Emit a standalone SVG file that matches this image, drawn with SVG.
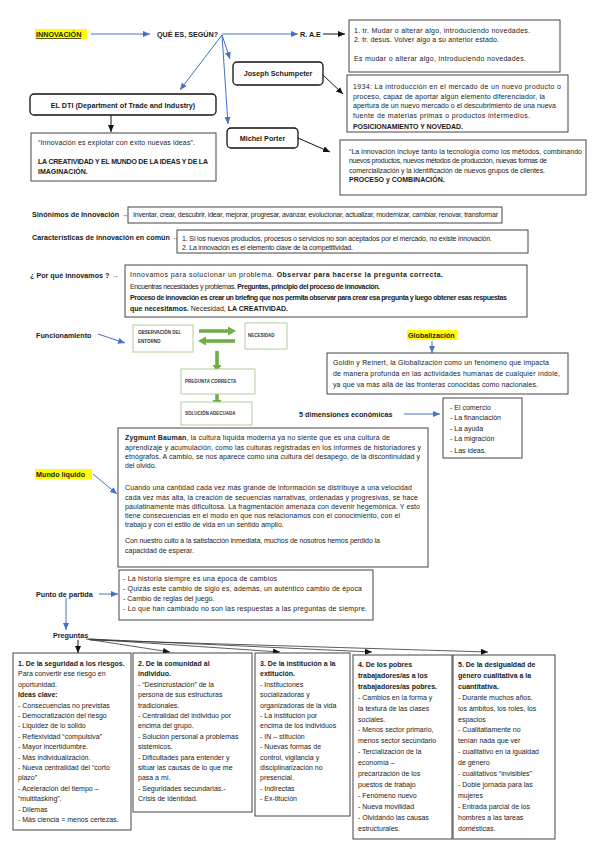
<svg xmlns="http://www.w3.org/2000/svg" width="599" height="848" viewBox="0 0 599 848">
<style>
text{font-family:"Liberation Sans",Arial,sans-serif;fill:#1a1a1a}
.t{font-size:7px}
.b{font-weight:bold}
.h{font-size:7.2px;font-weight:bold}
.g{font-size:4.5px;font-weight:bold;fill:#333}
.box{fill:#fff;stroke:#444;stroke-width:1}
.rbox{fill:#fff;stroke:#111;stroke-width:1.3}
.gbox{fill:#fff;stroke:#a9c98e;stroke-width:0.9}
.blue{stroke:#4472c4;stroke-width:1;fill:none}
.blk{stroke:#111;stroke-width:1;fill:none}
.fan{stroke:#333;stroke-width:0.8;fill:none}
.hl{fill:#ffff00}
.ga{fill:#70ad47}
</style>
<defs>
<marker id="ab" markerUnits="userSpaceOnUse" markerWidth="7" markerHeight="6" refX="7" refY="3" orient="auto"><path d="M0,0 L7,3 L0,6 z" fill="#4472c4"/></marker>
<marker id="ak" markerUnits="userSpaceOnUse" markerWidth="7" markerHeight="6" refX="7" refY="3" orient="auto"><path d="M0,0 L7,3 L0,6 z" fill="#111"/></marker>
</defs>

<g id="connectors">
<line class="blue" x1="91" y1="34" x2="150" y2="34" marker-end="url(#ab)"/>
<line class="blue" x1="222" y1="34" x2="298" y2="34" marker-end="url(#ab)"/>
<line class="blk" x1="323" y1="34" x2="345" y2="34" marker-end="url(#ak)"/>
<line class="blue" x1="222" y1="35" x2="180" y2="90" marker-end="url(#ab)"/>
<line class="blue" x1="222" y1="35" x2="230" y2="59" marker-end="url(#ab)"/>
<line class="blue" x1="222" y1="35" x2="228" y2="124" marker-end="url(#ab)"/>
<line class="blk" x1="323" y1="75" x2="343" y2="94" marker-end="url(#ak)"/>
<line class="blk" x1="111" y1="115" x2="111" y2="132" marker-end="url(#ak)"/>
<line class="blk" x1="298" y1="138" x2="330" y2="152" marker-end="url(#ak)"/>
<line class="blue" x1="98" y1="334" x2="125" y2="343" marker-end="url(#ab)"/>
<polygon class="ga" points="199,329.2 228,329.2 228,326.5 236,331 228,335.5 228,332.8 199,332.8"/>
<polygon class="ga" points="235,339.2 206,339.2 206,336.5 198,341 206,345.5 206,342.8 235,342.8"/>
<polygon class="ga" points="215.2,351 218.8,351 218.8,365 221.5,365 217,372 212.5,365 215.2,365"/>
<polygon class="ga" points="215.2,394 218.8,394 218.8,400 221.5,400 217,407 212.5,400 215.2,400"/>
<line class="blue" x1="432" y1="341" x2="432" y2="353" marker-end="url(#ab)"/>
<line class="blue" x1="404" y1="414" x2="440" y2="414" marker-end="url(#ab)"/>
<line class="blue" x1="93" y1="474" x2="117" y2="494" marker-end="url(#ab)"/>
<line class="blue" x1="99" y1="594" x2="118" y2="594" marker-end="url(#ab)"/>
<line class="blue" x1="66" y1="598" x2="66" y2="630" marker-end="url(#ab)"/>
<line class="blk" x1="78" y1="640" x2="78" y2="653" marker-end="url(#ak)"/>
<line class="fan" x1="86" y1="639" x2="170" y2="652" marker-end="url(#ak)"/>
<line class="fan" x1="88" y1="639" x2="280" y2="652" marker-end="url(#ak)"/>
<line class="fan" x1="90" y1="639" x2="372" y2="652" marker-end="url(#ak)"/>
<line class="fan" x1="90" y1="640" x2="488" y2="652" marker-end="url(#ak)"/>
</g>

<g id="innovacion">
<rect class="hl" x="35" y="29" width="52" height="10"/>
<text class="h" x="36" y="37" text-decoration="underline">INNOVACIÓN</text>
</g>
<g id="que-es"><text class="h" x="157" y="37">QUÉ ES, SEGÚN?</text></g>
<g id="rae"><text class="h" x="300" y="37">R. A.E</text></g>

<g id="rae-def">
<rect class="box" x="349" y="20" width="211" height="52"/>
<text class="t" x="354" y="32.5" font-size="7.4" textLength="176">1. tr. Mudar o alterar algo, introduciendo novedades.</text>
<text class="t" x="354" y="41.5" font-size="7.4" textLength="145">2. tr. desus. Volver algo a su anterior estado.</text>
<text class="t" x="354" y="60.5" font-size="7.4" textLength="172">Es mudar o alterar algo, introduciendo novedades.</text>
</g>

<g id="schumpeter">
<rect class="rbox" x="233" y="62" width="90" height="23" rx="4"/>
<text class="h" x="278" y="76" text-anchor="middle" font-size="7">Joseph Schumpeter</text>
</g>
<g id="schumpeter-def">
<rect class="box" x="347" y="75" width="221" height="57"/>
<text class="t" x="353" y="89" font-size="7.1" textLength="208">1934: La introducción en el mercado de un nuevo producto o</text>
<text class="t" x="353" y="99" font-size="7.1" textLength="192">proceso, capaz de aportar algún elemento diferenciador, la</text>
<text class="t" x="353" y="108" font-size="7.1" textLength="203">apertura de un nuevo mercado o el descubrimiento de una nueva</text>
<text class="t" x="353" y="117.5" font-size="7.1" textLength="177">fuente de materias primas o productos intermedios.</text>
<text class="t b" x="353" y="129" font-size="6.8" textLength="110">POSICIONAMIENTO Y NOVEDAD.</text>
</g>

<g id="dti">
<rect class="rbox" x="30" y="94" width="186" height="21" rx="4"/>
<text class="h" x="123" y="107.5" text-anchor="middle" font-size="7">EL DTI (Department of Trade and Industry)</text>
</g>
<g id="dti-def">
<rect class="box" x="31" y="133" width="185" height="48"/>
<text class="t" x="38" y="145" font-size="6.8" textLength="157">“Innovación es explotar con éxito nuevas ideas”.</text>
<text class="t b" x="38" y="164" font-size="6.2" textLength="170">LA CREATIVIDAD Y EL MUNDO DE LA IDEAS Y DE LA</text>
<text class="t b" x="38" y="173.5" font-size="6.2">IMAGINACIÓN.</text>
</g>

<g id="porter">
<rect class="rbox" x="227" y="128" width="71" height="20" rx="4"/>
<text class="h" x="262.5" y="141" text-anchor="middle" font-size="7">Michel Porter</text>
</g>
<g id="porter-def">
<rect class="box" x="340" y="140" width="246" height="55"/>
<text class="t" x="349" y="154" font-size="6.5" textLength="233">“La innovación incluye tanto la tecnología como los métodos, combinando</text>
<text class="t" x="349" y="163" font-size="6.5" textLength="198">nuevos productos, nuevos métodos de producción, nuevas formas de</text>
<text class="t" x="349" y="172.5" font-size="6.5" textLength="196">comercialización y la identificación de nuevos grupos de clientes.</text>
<text class="t b" x="349" y="181.5" font-size="6.4">PROCESO y COMBINACIÓN.</text>
</g>

<g id="sinonimos">
<text class="h" x="32" y="217" font-size="7">Sinónimos de Innovación →</text>
<rect class="box" x="128" y="207" width="374" height="16"/>
<text class="t" x="133" y="216.5" font-size="5.9" textLength="365">Inventar, crear, descubrir, idear, mejorar, progresar, avanzar, evolucionar, actualizar, modernizar, cambiar, renovar, transformar</text>
</g>

<g id="caracteristicas">
<text class="h" x="32" y="239.5" font-size="7">Características de innovación en común →</text>
<rect class="box" x="177" y="230" width="351" height="23"/>
<text class="t" x="182" y="240.5" font-size="6.3" textLength="310">1. Si los nuevos productos, procesos o servicios no son aceptados por el mercado, no existe innovación.</text>
<text class="t" x="182" y="249.5" font-size="6.3" textLength="171">2. La innovación es el elemento clave de la competitividad.</text>
</g>

<g id="por-que">
<text class="h" x="30" y="277.5" font-size="7">¿ Por qué innovamos ? →</text>
<rect class="box" x="125" y="265" width="402" height="52"/>
<text class="t" x="130" y="277" font-size="6.8" textLength="313">Innovamos para solucionar un problema. <tspan class="b">Observar para hacerse la pregunta correcta.</tspan></text>
<text class="t" x="130" y="289" font-size="5.9" textLength="250">Encuentras necesidades y problemas. <tspan class="b">Preguntas, principio del proceso de innovación.</tspan></text>
<text class="t b" x="130" y="300" font-size="5.8" textLength="377">Proceso de innovación es crear un briefing que nos permita observar para crear esa pregunta y luego obtener esas respuestas</text>
<text class="t" x="130" y="311" font-size="5.8"><tspan class="b">que necesitamos.</tspan> Necesidad, <tspan class="b">LA CREATIVIDAD.</tspan></text>
</g>

<g id="funcionamiento"><text class="h" x="36" y="337.5" font-size="7.3">Funcionamiento</text></g>
<g id="observacion">
<rect class="gbox" x="133" y="325" width="60" height="27"/>
<text class="g" x="138" y="334">OBSERVACIÓN DEL</text>
<text class="g" x="138" y="343">ENTORNO</text>
</g>
<g id="necesidad">
<rect class="gbox" x="245" y="323" width="42" height="26"/>
<text class="g" x="248" y="337">NECESIDAD</text>
</g>
<g id="pregunta-correcta">
<rect class="gbox" x="181" y="369" width="74" height="25"/>
<text class="g" x="185" y="383">PREGUNTA CORRECTA</text>
</g>
<g id="solucion">
<rect class="gbox" x="181" y="402" width="71" height="23"/>
<text class="g" x="185" y="414.5">SOLUCIÓN ADECUADA</text>
</g>

<g id="globalizacion">
<rect class="hl" x="407" y="330" width="50" height="10"/>
<text class="h" x="408" y="337.8" font-size="6.8">Globalización</text>
</g>
<g id="globalizacion-def">
<rect class="box" x="327" y="353" width="241" height="41"/>
<text class="t" x="333" y="365" font-size="7.2" textLength="216">Goldin y Reinert, la Globalización como un fenómeno que impacta</text>
<text class="t" x="333" y="376" font-size="7.2" textLength="227">de manera profunda en las actividades humanas de cualquier índole,</text>
<text class="t" x="333" y="386.5" font-size="7.2" textLength="205">ya que va más allá de las fronteras conocidas como nacionales.</text>
</g>

<g id="dimensiones"><text class="h" x="299" y="417" font-size="7.4">5 dimensiones económicas</text></g>
<g id="dimensiones-list">
<rect class="box" x="443" y="398" width="79" height="60"/>
<text class="t" x="450" y="409.5">- El comercio</text>
<text class="t" x="450" y="420">- La financiación</text>
<text class="t" x="450" y="430.5">- La ayuda</text>
<text class="t" x="450" y="441">- La migración</text>
<text class="t" x="450" y="452.5">- Las ideas.</text>
</g>

<g id="mundo-liquido">
<rect class="hl" x="35" y="469" width="57" height="10"/>
<text class="h" x="36" y="477" font-size="7.5">Mundo líquido</text>
</g>
<g id="bauman">
<rect class="box" x="118" y="428" width="310" height="139"/>
<text class="t" x="125" y="439.5" font-size="6.7" textLength="265"><tspan class="b">Zygmunt Bauman</tspan>, la cultura líquida moderna ya no siente que es una cultura de</text>
<text class="t" x="125" y="449.5" font-size="6.7" textLength="296">aprendizaje y acumulación, como las culturas registradas en los informes de historiadores y</text>
<text class="t" x="125" y="458.5" font-size="6.7" textLength="295">etnógrafos. A cambio, se nos aparece como una cultura del desapego, de la discontinuidad y</text>
<text class="t" x="125" y="467.5" font-size="6.7">del olvido.</text>
<text class="t" x="125" y="490" font-size="6.7" textLength="287">Cuando una cantidad cada vez más grande de información se distribuye a una velocidad</text>
<text class="t" x="125" y="499.5" font-size="6.7" textLength="293">cada vez más alta, la creación de secuencias narrativas, ordenadas y progresivas, se hace</text>
<text class="t" x="125" y="508.5" font-size="6.7" textLength="295">paulatinamente más dificultosa. La fragmentación amenaza con devenir hegemónica. Y esto</text>
<text class="t" x="125" y="517.5" font-size="6.7" textLength="275">tiene consecuencias en el modo en que nos relacionamos con el conocimiento, con el</text>
<text class="t" x="125" y="526.5" font-size="6.7">trabajo y con el estilo de vida en un sentido amplio.</text>
<text class="t" x="125" y="542.5" font-size="6.7" textLength="255">Con nuestro culto a la satisfacción inmediata, muchos de nosotros hemos perdido la</text>
<text class="t" x="125" y="552.5" font-size="6.7">capacidad de esperar.</text>
</g>

<g id="punto-partida"><text class="h" x="36" y="596.5" font-size="7.2">Punto de partida</text></g>
<g id="punto-partida-list">
<rect class="box" x="119" y="570" width="254" height="50"/>
<text class="t" x="123" y="580.5" font-size="7.2" textLength="154">- La historia siempre es una época de cambios</text>
<text class="t" x="123" y="590.5" font-size="7.2" textLength="239">- Quizás este cambio de siglo es, además, un auténtico cambio de época</text>
<text class="t" x="123" y="600.5" font-size="7.2">- Cambio de reglas del juego.</text>
<text class="t" x="123" y="610.5" font-size="7.2" textLength="244">- Lo que han cambiado no son las respuestas a las preguntas de siempre.</text>
</g>

<g id="preguntas"><text class="h" x="53" y="637.5" font-size="7">Preguntas</text></g>

<g id="q1">
<rect class="box" x="13" y="653" width="118" height="177"/>
<text class="t" x="18" y="666"><tspan class="b" x="18" dy="0">1. De la seguridad a los riesgos.</tspan><tspan x="18" dy="10.4">Para convertir ese riesgo en</tspan><tspan x="18" dy="10.4">oportunidad.</tspan><tspan class="b" x="18" dy="10.4">Ideas clave:</tspan><tspan x="18" dy="10.4">- Consecuencias no previstas</tspan><tspan x="18" dy="10.4">- Democratización del riesgo</tspan><tspan x="18" dy="10.4">- Liquidez de lo sólido</tspan><tspan x="18" dy="10.4">- Reflexividad “compulsiva”</tspan><tspan x="18" dy="10.4">- Mayor incertidumbre.</tspan><tspan x="18" dy="10.4">- Más individualización.</tspan><tspan x="18" dy="10.4">- Nueva centralidad del “corto</tspan><tspan x="18" dy="10.4">plazo”</tspan><tspan x="18" dy="10.4">- Aceleración del tiempo –</tspan><tspan x="18" dy="10.4">“multitasking”.</tspan><tspan x="18" dy="10.4">- Dilemas</tspan><tspan x="18" dy="10.4">- Más ciencia = menos certezas.</tspan></text>
</g>
<g id="q2">
<rect class="box" x="133" y="653" width="119" height="159"/>
<text class="t" x="138" y="666"><tspan class="b" x="138" dy="0">2. De la comunidad al</tspan><tspan class="b" x="138" dy="10.4">individuo.</tspan><tspan x="138" dy="10.4">- “Desincrustación” de la</tspan><tspan x="138" dy="10.4">persona de sus estructuras</tspan><tspan x="138" dy="10.4">tradicionales.</tspan><tspan x="138" dy="10.4">- Centralidad del individuo por</tspan><tspan x="138" dy="10.4">encima del grupo.</tspan><tspan x="138" dy="10.4">- Solución personal a problemas</tspan><tspan x="138" dy="10.4">sistémicos.</tspan><tspan x="138" dy="10.4">- Dificultades para entender y</tspan><tspan x="138" dy="10.4">situar las causas de lo que me</tspan><tspan x="138" dy="10.4">pasa a mí.</tspan><tspan x="138" dy="10.4">- Seguridades secundarias.-</tspan><tspan x="138" dy="10.4">Crisis de identidad.</tspan></text>
</g>
<g id="q3">
<rect class="box" x="255" y="653" width="95" height="163"/>
<text class="t" x="260" y="666"><tspan class="b" x="260" dy="0">3. De la institución a la</tspan><tspan class="b" x="260" dy="10.4">extitución.</tspan><tspan x="260" dy="10.4">- Instituciones</tspan><tspan x="260" dy="10.4">socializadoras y</tspan><tspan x="260" dy="10.4">organizadoras de la vida</tspan><tspan x="260" dy="10.4">- La institución por</tspan><tspan x="260" dy="10.4">encima de los individuos</tspan><tspan x="260" dy="10.4">- IN – stitución</tspan><tspan x="260" dy="10.4">- Nuevas formas de</tspan><tspan x="260" dy="10.4">control, vigilancia y</tspan><tspan x="260" dy="10.4">disciplinarización no</tspan><tspan x="260" dy="10.4">presencial.</tspan><tspan x="260" dy="10.4">- Indirectas</tspan><tspan x="260" dy="10.4">- Ex-titución</tspan></text>
</g>
<g id="q4">
<rect class="box" x="353" y="655" width="99" height="184"/>
<text class="t" x="358" y="667"><tspan class="b" x="358" dy="0">4. De los pobres</tspan><tspan class="b" x="358" dy="10.9">trabajadores/as a los</tspan><tspan class="b" x="358" dy="10.9">trabajadores/as pobres.</tspan><tspan x="358" dy="10.9">- Cambios en la forma y</tspan><tspan x="358" dy="10.9">la textura de las clases</tspan><tspan x="358" dy="10.9">sociales.</tspan><tspan x="358" dy="10.9">- Menos sector primario,</tspan><tspan x="358" dy="10.9">menos sector secundario</tspan><tspan x="358" dy="10.9">- Tercialización de la</tspan><tspan x="358" dy="10.9">economía –</tspan><tspan x="358" dy="10.9">precarización de los</tspan><tspan x="358" dy="10.9">puestos de trabajo</tspan><tspan x="358" dy="10.9">- Fenómeno nuevo</tspan><tspan x="358" dy="10.9">- Nueva movilidad</tspan><tspan x="358" dy="10.9">- Olvidando las causas</tspan><tspan x="358" dy="10.9">estructurales.</tspan></text>
</g>
<g id="q5">
<rect class="box" x="453" y="655" width="102" height="184"/>
<text class="t" x="458" y="667"><tspan class="b" x="458" dy="0">5. De la desigualdad de</tspan><tspan class="b" x="458" dy="10.9">género cualitativa a la</tspan><tspan class="b" x="458" dy="10.9">cuantitativa.</tspan><tspan x="458" dy="10.9">- Durante muchos años,</tspan><tspan x="458" dy="10.9">los ámbitos, los roles, los</tspan><tspan x="458" dy="10.9">espacios</tspan><tspan x="458" dy="10.9">- Cualitatiamente no</tspan><tspan x="458" dy="10.9">tenían nada que ver</tspan><tspan x="458" dy="10.9">- cualitativo en la igualdad</tspan><tspan x="458" dy="10.9">de género</tspan><tspan x="458" dy="10.9">- cualitativos “invisibles”</tspan><tspan x="458" dy="10.9">- Doble jornada para las</tspan><tspan x="458" dy="10.9">mujeres</tspan><tspan x="458" dy="10.9">- Entrada parcial de los</tspan><tspan x="458" dy="10.9">hombres a las tareas</tspan><tspan x="458" dy="10.9">domésticas.</tspan></text>
</g>
</svg>
